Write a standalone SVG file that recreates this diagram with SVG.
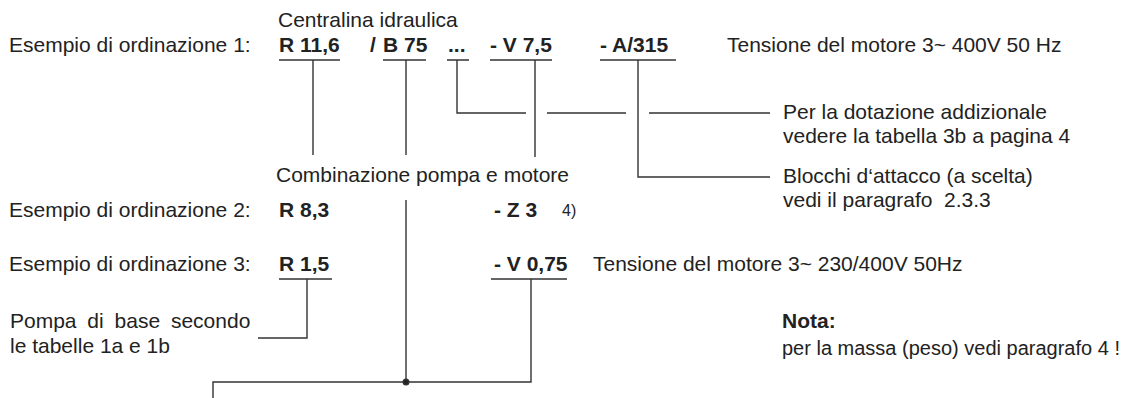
<svg xmlns="http://www.w3.org/2000/svg" width="1128" height="398" viewBox="0 0 1128 398">
  <style>
    text { font-family: "Liberation Sans", Arial, Helvetica, sans-serif; font-size: 21px; fill: #222; }
    .b { font-weight: bold; }
    .sup { font-size: 16px; }
    .ln { fill: none; stroke: #333; stroke-width: 1.4; }
  </style>
  <rect width="1128" height="398" fill="#fff"/>

  <!-- example rows -->
  <g id="example1">
    <text x="9" y="52">Esempio di ordinazione 1:</text>
    <text x="278" y="27">Centralina idraulica</text>
    <text class="b" x="279" y="52">R 11,6</text>
    <text class="b" x="370" y="52">/</text>
    <text class="b" x="383" y="52">B 75</text>
    <text class="b" x="448" y="52">...</text>
    <text class="b" x="490" y="52">- V 7,5</text>
    <text class="b" x="600" y="52">- A/315</text>
    <text x="727" y="52">Tensione del motore 3~ 400V 50 Hz</text>
  </g>
  <g id="example2">
    <text x="9" y="217">Esempio di ordinazione 2:</text>
    <text class="b" x="279" y="217">R 8,3</text>
    <text class="b" x="494" y="217">- Z 3</text>
    <text class="sup" x="562" y="216">4)</text>
  </g>
  <g id="example3">
    <text x="9" y="271">Esempio di ordinazione 3:</text>
    <text class="b" x="279" y="271">R 1,5</text>
    <text class="b" x="494" y="271">- V 0,75</text>
    <text x="593" y="271">Tensione del motore 3~ 230/400V 50Hz</text>
  </g>

  <!-- explanations -->
  <g id="note-extra">
    <text x="783" y="119">Per la dotazione addizionale</text>
    <text x="783" y="143">vedere la tabella 3b a pagina 4</text>
  </g>
  <g id="note-blocks">
    <text x="783" y="183">Blocchi d‘attacco (a scelta)</text>
    <text x="783" y="207" xml:space="preserve">vedi il paragrafo  2.3.3</text>
  </g>
  <g id="note-combination">
    <text x="276" y="182">Combinazione pompa e motore</text>
  </g>
  <g id="note-pump">
    <text x="10" y="328" word-spacing="5">Pompa di base secondo</text>
    <text x="10" y="353">le tabelle 1a e 1b</text>
  </g>
  <g id="note-mass">
    <text class="b" x="782" y="328">Nota:</text>
    <text x="782" y="355" style="font-size:20px">per la massa (peso) vedi paragrafo 4 !</text>
  </g>

  <!-- underlines and leader lines -->
  <g id="connectors" class="ln">
    <path class="ln" d="M279 60H340M313 60V155"/>
    <path class="ln" d="M383 60H426M406 60V155"/>
    <path class="ln" d="M447 60H469M457 60V113H526"/>
    <path class="ln" d="M547 113H626M649 113H770"/>
    <path class="ln" d="M490 60H552M535 60V157"/>
    <path class="ln" d="M600 60H676M638 60V177H770"/>
    <path class="ln" d="M279 279H332M307 279V338H258"/>
    <path class="ln" d="M491 279H567M531 279V382H213V398"/>
    <path class="ln" d="M406 200V382"/>
    <circle cx="406" cy="382" r="2.8" fill="#222"/>
  </g>
</svg>
